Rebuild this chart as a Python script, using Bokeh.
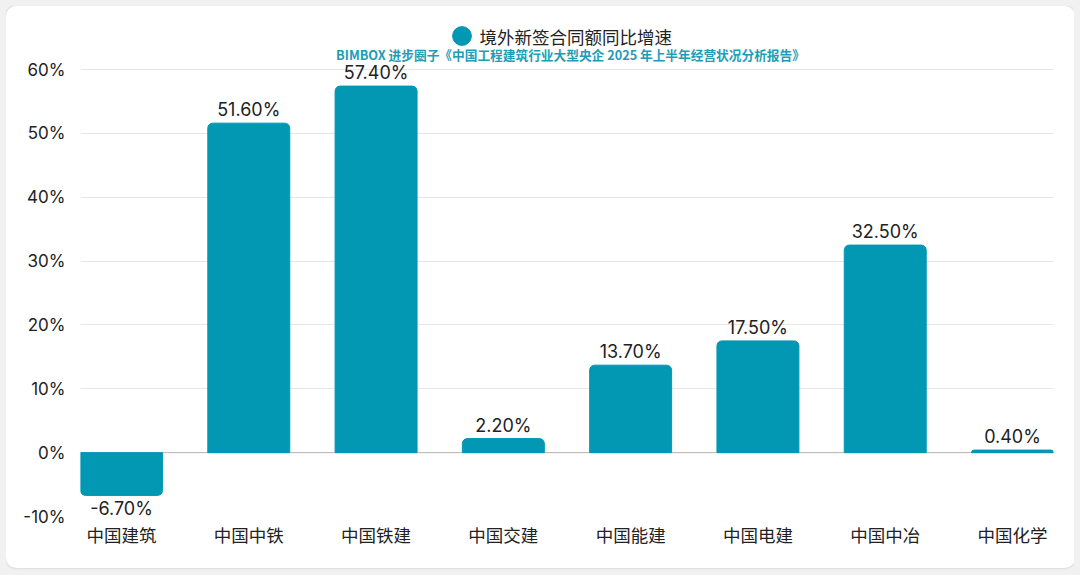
from bokeh.plotting import figure
from bokeh.models import (ColumnDataSource, FixedTicker, Range1d, Legend, LegendItem,
                          Span, LabelSet, Label)
from bokeh.core.properties import value
from bokeh.embed import file_html
from bokeh.resources import INLINE

companies = ['中国建筑', '中国中铁', '中国铁建', '中国交建', '中国能建', '中国电建', '中国中冶', '中国化学']
growth = [-6.7, 51.6, 57.4, 2.2, 13.7, 17.5, 32.5, 0.4]
y_ticks = [-10, 0, 10, 20, 30, 40, 50, 60]

series_name = '境外新签合同额同比增速'
subtitle = 'BIMBOX 进步圈子《中国工程建筑行业大型央企 2025 年上半年经营状况分析报告》'

TEAL = '#0298b3'
CJK = 'Noto Sans CJK SC'
NUM = 'Inter'

xs = list(range(len(companies)))
labels = ['%.2f%%' % v for v in growth]

pos = ColumnDataSource(dict(x=[x for x, v in zip(xs, growth) if v >= 0],
                            y=[v for v in growth if v >= 0],
                            label=[l for l, v in zip(labels, growth) if v >= 0]))
neg = ColumnDataSource(dict(x=[x for x, v in zip(xs, growth) if v < 0],
                            y=[v for v in growth if v < 0],
                            label=[l for l, v in zip(labels, growth) if v < 0]))

bw = 0.644
# plot area runs from -10% to 60% over 447px; the header sits in the extra room above
px_per_unit = 447 / 70
frame_h = 510
p = figure(title=None, frame_width=973, frame_height=frame_h,
           x_range=Range1d(-bw / 2, len(companies) - 1 + bw / 2),
           y_range=Range1d(-10, -10 + frame_h / px_per_unit),
           output_backend="svg", toolbar_location=None,
           min_border_left=74, min_border_right=22, min_border_bottom=52, min_border_top=0)
p.border_fill_alpha = 0
p.outline_line_color = None
p.styles = {"background-color": "white", "border-radius": "10px",
            "box-shadow": "0 0 3px rgba(0,0,0,0.18)"}

p.add_layout(Span(location=0, dimension='width', line_color='#b5b5b5', line_width=1, level='underlay'))

p.vbar(x='x', top='y', bottom=0, width=bw, source=pos, color=TEAL, border_radius=(5, 5, 0, 0))
p.vbar(x='x', top=0, bottom='y', width=bw, source=neg, color=TEAL, border_radius=(0, 0, 5, 5))

p.add_layout(LabelSet(x='x', y='y', text='label', source=pos, text_align='center',
                      text_baseline='alphabetic', y_offset=7, text_font=value(NUM),
                      text_font_size='18px', text_color='#222222'))
p.add_layout(LabelSet(x='x', y='y', text='label', source=neg, text_align='center',
                      text_baseline='top', y_offset=-3, text_font=value(NUM),
                      text_font_size='18px', text_color='#222222'))

# legend marker
dummy = p.scatter(x=[float('nan')], y=[float('nan')], marker='circle', size=19, color=TEAL)

p.xgrid.visible = False
p.ygrid.ticker = FixedTicker(ticks=y_ticks)
p.ygrid.grid_line_color = '#e6e6e6'

p.yaxis.ticker = FixedTicker(ticks=y_ticks)
p.yaxis.major_label_overrides = {t: '%d%%' % t for t in y_ticks}
p.yaxis.axis_line_color = None
p.yaxis.major_tick_line_color = None
p.yaxis.minor_tick_line_color = None
p.yaxis.major_tick_out = 0
p.yaxis.major_label_standoff = 15
p.yaxis.major_label_text_font = NUM
p.yaxis.major_label_text_font_size = '17px'
p.yaxis.major_label_text_color = '#222222'

p.xaxis.ticker = FixedTicker(ticks=xs)
p.xaxis.major_label_overrides = {x: c for x, c in zip(xs, companies)}
p.xaxis.axis_line_color = None
p.xaxis.major_tick_line_color = None
p.xaxis.minor_tick_line_color = None
p.xaxis.major_tick_out = 0
p.xaxis.major_label_standoff = 5
p.xaxis.major_label_text_font = CJK
p.xaxis.major_label_text_font_size = '17.5px'
p.xaxis.major_label_text_color = '#222222'

# legend carries only the round marker; the series name sits right next to it
legend = Legend(items=[LegendItem(label=' ', renderers=[dummy])],
                location=(358, 457), orientation='horizontal',
                border_line_color=None, background_fill_alpha=0,
                glyph_width=47, glyph_height=47, label_standoff=0,
                label_text_font_size='1px', padding=0, margin=0)
p.add_layout(legend)

p.add_layout(Label(x=399, y=480, x_units='screen', y_units='screen', text=series_name,
                   text_align='left', text_baseline='middle', text_font=CJK,
                   text_font_size='17.5px', text_color='#222222'))

p.add_layout(Label(x=490, y=462, x_units='screen', y_units='screen', text=subtitle,
                   text_align='center', text_baseline='middle', text_font=CJK,
                   text_font_size='12.7px', text_font_style='bold', text_color='#1d9db6'))

html = file_html(p, INLINE)
html = html.replace('</head>', '<style>body{margin:6px;background:#f1f1f1;}</style></head>', 1)
open("out.html", "w").write(html)
